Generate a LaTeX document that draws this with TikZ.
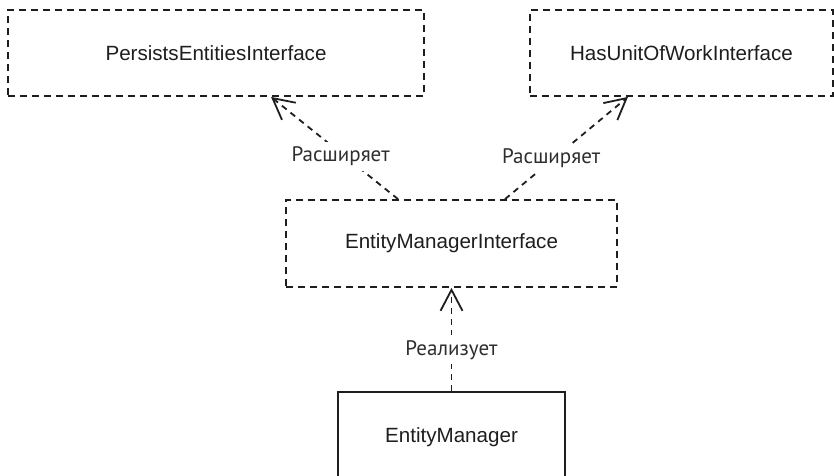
\documentclass[tikz,border=0pt]{standalone}
\usepackage{fontspec}
\setmainfont{Liberation Sans}
\newfontfamily\labelfont{PT Sans}
\usetikzlibrary{arrows.meta}
\definecolor{ink}{HTML}{1E1E1E}
\definecolor{labelink}{HTML}{2E2E2E}
\tikzset{
  iface/.style={draw=ink, line width=1.8pt, dash pattern=on 7pt off 5pt,
    minimum height=86pt, inner sep=0pt, text=ink, font=\fontsize{20.6}{24}\selectfont},
  klass/.style={draw=ink, line width=1.8pt, solid,
    minimum height=90pt, minimum width=227pt, inner sep=0pt, text=ink,
    font=\fontsize{20.6}{24}\selectfont},
  rel/.style={draw=ink, line width=1.8pt, dash pattern=on 6pt off 5pt,
    -{Straight Barb[length=21pt,width=22pt,line width=1.8pt]}},
  rellabel/.style={fill=white, inner sep=5pt, text=labelink,
    font=\labelfont\fontsize{21}{25}\selectfont},
}
\begin{document}
\begin{tikzpicture}[x=1pt, y=-1pt]
  \useasboundingbox (0,0) rectangle (834,475);
  \clip (0,0) rectangle (834,475);

  \node[iface, minimum width=416pt] (persists) at (216,53) {PersistsEntitiesInterface};
  \node[iface, minimum width=303pt] (unitofwork) at (681.5,53) {HasUnitOfWorkInterface};
  \node[iface, minimum width=331pt, minimum height=87pt] (emi) at (451.5,243.5) {EntityManagerInterface};
  \node[klass] (em) at (451.5,437) {EntityManager};

  \coordinate (emiL) at ([xshift=-53.5pt]emi.north);
  \coordinate (emiR) at ([xshift=53.5pt]emi.north);
  \coordinate (persistsIn) at ([xshift=55pt]persists.south);
  \coordinate (unitIn) at ([xshift=-53.5pt]unitofwork.south);

  \draw[rel] (emiL) -- node[rellabel, pos=0.42, xshift=-4pt] {Расширяет} (persistsIn);
  \draw[rel] (emiR) -- node[rellabel, pos=0.4, xshift=-3pt] {Расширяет} (unitIn);
  \draw[rel] (em.north) -- node[rellabel, pos=0.4] {Реализует} (emi.south);
\end{tikzpicture}
\end{document}
